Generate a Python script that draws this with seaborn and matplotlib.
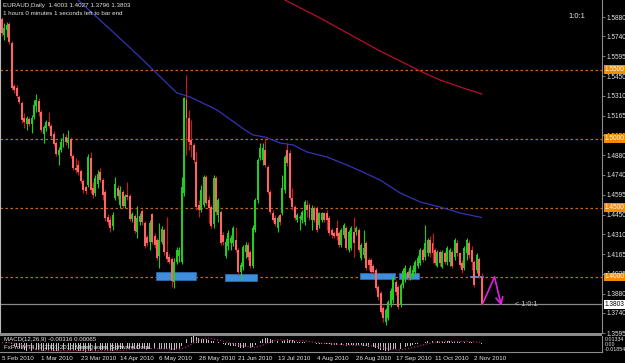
import numpy as np
import pandas as pd
import matplotlib
matplotlib.use("Agg")
import matplotlib.pyplot as plt
from matplotlib.patches import Rectangle
import seaborn as sns

# ---------------- data ----------------
open_ = [1.5866, 1.5750, 1.5786, 1.5829, 1.5692, 1.5381, 1.5366, 1.5302, 1.5258, 1.5150,
         1.5107, 1.5143, 1.5107, 1.5157, 1.5237, 1.5273, 1.5193, 1.5034, 1.5078, 1.5121,
         1.5092, 1.5034, 1.4969, 1.4882, 1.4918, 1.4962, 1.5012, 1.4969, 1.4998, 1.4875,
         1.4788, 1.4810, 1.4767, 1.4694, 1.4651, 1.4666, 1.4861, 1.4644, 1.4608, 1.4673,
         1.4759, 1.4702, 1.4615, 1.4434, 1.4412, 1.4369, 1.4571, 1.4644, 1.4521, 1.4615,
         1.4514, 1.4593, 1.4586, 1.4420, 1.4441, 1.4326, 1.4398, 1.4478, 1.4391, 1.4290,
         1.4253, 1.4456, 1.4297, 1.4268, 1.4152, 1.4253, 1.4340, 1.4181, 1.4145, 1.4130,
         1.3964, 1.4109, 1.4152, 1.4109, 1.4608, 1.5280, 1.5150, 1.4991, 1.4955, 1.4832,
         1.4521, 1.4485, 1.4521, 1.4723, 1.4557, 1.4506, 1.4384, 1.4716, 1.4448, 1.4470,
         1.4304, 1.4152, 1.4224, 1.4246, 1.4246, 1.4268, 1.4195, 1.4036, 1.4073, 1.4181,
         1.4232, 1.4181, 1.4080, 1.4340, 1.4557, 1.4861, 1.4846, 1.4918, 1.4796, 1.4615,
         1.4463, 1.4427, 1.4355, 1.4448, 1.4463, 1.4629, 1.4918, 1.4897, 1.4571, 1.4506,
         1.4412, 1.4427, 1.4412, 1.4398, 1.4521, 1.4521, 1.4412, 1.4499, 1.4499, 1.4376,
         1.4412, 1.4463, 1.4463, 1.4427, 1.4340, 1.4318, 1.4355, 1.4318, 1.4232, 1.4304,
         1.4355, 1.4195, 1.4210, 1.4326, 1.4326, 1.4340, 1.4138, 1.4159, 1.4246, 1.4123,
         1.4123, 1.4080, 1.4051, 1.3928, 1.3885, 1.3776, 1.3675, 1.3704, 1.3798, 1.3834,
         1.3964, 1.3928, 1.3798, 1.3942, 1.3993, 1.4036, 1.4008, 1.4008, 1.4036, 1.4080,
         1.4101, 1.4195, 1.4145, 1.4174, 1.4268, 1.4246, 1.4195, 1.4080, 1.4181, 1.4073,
         1.4174, 1.4109, 1.4109, 1.4181, 1.4145, 1.4246, 1.4174, 1.4101, 1.4065, 1.4174,
         1.4246, 1.4195, 1.4109, 1.4051, 1.4130, 1.4003]
high = [1.5880, 1.5837, 1.5844, 1.5844, 1.5707, 1.5395, 1.5388, 1.5316, 1.5273, 1.5186,
        1.5164, 1.5157, 1.5172, 1.5280, 1.5323, 1.5294, 1.5208, 1.5099, 1.5135, 1.5193,
        1.5107, 1.5056, 1.4984, 1.4940, 1.5005, 1.5041, 1.5034, 1.5063, 1.5012, 1.4889,
        1.4861, 1.4846, 1.4781, 1.4709, 1.4666, 1.4889, 1.4904, 1.4687, 1.4738, 1.4774,
        1.4788, 1.4716, 1.4629, 1.4456, 1.4441, 1.4470, 1.4723, 1.4666, 1.4658, 1.4629,
        1.4600, 1.4687, 1.4600, 1.4470, 1.4456, 1.4514, 1.4463, 1.4492, 1.4405, 1.4304,
        1.4412, 1.4463, 1.4318, 1.4282, 1.4391, 1.4369, 1.4355, 1.4434, 1.4167, 1.4145,
        1.4138, 1.4217, 1.4217, 1.4723, 1.5302, 1.5461, 1.5208, 1.5135, 1.4969, 1.4904,
        1.4557, 1.4666, 1.4738, 1.4738, 1.4586, 1.4521, 1.4738, 1.4731, 1.4571, 1.4485,
        1.4326, 1.4282, 1.4340, 1.4304, 1.4369, 1.4362, 1.4210, 1.4109, 1.4232, 1.4253,
        1.4253, 1.4195, 1.4376, 1.4571, 1.4861, 1.4969, 1.4969, 1.5005, 1.4810, 1.4629,
        1.4485, 1.4448, 1.4441, 1.4463, 1.4738, 1.4882, 1.4969, 1.4918, 1.4644, 1.4521,
        1.4463, 1.4448, 1.4485, 1.4557, 1.4557, 1.4535, 1.4521, 1.4514, 1.4514, 1.4470,
        1.4470, 1.4470, 1.4485, 1.4441, 1.4355, 1.4333, 1.4412, 1.4333, 1.4355, 1.4391,
        1.4369, 1.4340, 1.4369, 1.4434, 1.4369, 1.4355, 1.4246, 1.4340, 1.4261, 1.4138,
        1.4138, 1.4094, 1.4065, 1.3942, 1.3899, 1.3791, 1.3776, 1.3834, 1.3921, 1.4008,
        1.3979, 1.3942, 1.3957, 1.4065, 1.4087, 1.4051, 1.4087, 1.4087, 1.4123, 1.4159,
        1.4210, 1.4210, 1.4376, 1.4282, 1.4297, 1.4318, 1.4210, 1.4195, 1.4195, 1.4195,
        1.4188, 1.4224, 1.4210, 1.4195, 1.4282, 1.4268, 1.4181, 1.4123, 1.4224, 1.4282,
        1.4268, 1.4224, 1.4123, 1.4174, 1.4145, 1.4027]
low = [1.5743, 1.5714, 1.5736, 1.5685, 1.5352, 1.5331, 1.5294, 1.5251, 1.5114, 1.5078,
       1.5063, 1.5092, 1.5041, 1.5143, 1.5193, 1.5164, 1.5049, 1.4969, 1.5056, 1.5078,
       1.5005, 1.4947, 1.4875, 1.4810, 1.4904, 1.4940, 1.4955, 1.4933, 1.4861, 1.4774,
       1.4752, 1.4738, 1.4680, 1.4608, 1.4600, 1.4651, 1.4608, 1.4571, 1.4586, 1.4644,
       1.4687, 1.4557, 1.4405, 1.4376, 1.4326, 1.4340, 1.4557, 1.4564, 1.4499, 1.4499,
       1.4499, 1.4557, 1.4405, 1.4398, 1.4318, 1.4282, 1.4376, 1.4376, 1.4210, 1.4224,
       1.4195, 1.4239, 1.4210, 1.4123, 1.4065, 1.4239, 1.4159, 1.4109, 1.4094, 1.3928,
       1.3921, 1.4094, 1.4109, 1.4094, 1.4586, 1.4882, 1.4918, 1.4868, 1.4825, 1.4485,
       1.4434, 1.4470, 1.4506, 1.4521, 1.4391, 1.4355, 1.4355, 1.4448, 1.4398, 1.4232,
       1.4232, 1.4138, 1.4195, 1.4195, 1.4224, 1.4181, 1.4015, 1.3979, 1.4051, 1.4138,
       1.4123, 1.4065, 1.4065, 1.4326, 1.4535, 1.4846, 1.4810, 1.4796, 1.4600, 1.4456,
       1.4398, 1.4369, 1.4326, 1.4376, 1.4448, 1.4608, 1.4803, 1.4557, 1.4485, 1.4412,
       1.4398, 1.4340, 1.4391, 1.4376, 1.4434, 1.4412, 1.4340, 1.4398, 1.4326, 1.4355,
       1.4398, 1.4398, 1.4340, 1.4304, 1.4282, 1.4282, 1.4268, 1.4217, 1.4217, 1.4282,
       1.4195, 1.4181, 1.4195, 1.4145, 1.4304, 1.4181, 1.4123, 1.4138, 1.4051, 1.4051,
       1.4029, 1.4022, 1.3906, 1.3834, 1.3733, 1.3675, 1.3653, 1.3689, 1.3783, 1.3812,
       1.3870, 1.3769, 1.3783, 1.3921, 1.3964, 1.3979, 1.3979, 1.3993, 1.4015, 1.4065,
       1.4087, 1.4109, 1.4123, 1.4152, 1.4145, 1.4101, 1.4087, 1.4073, 1.4080, 1.4065,
       1.4094, 1.4087, 1.4080, 1.4065, 1.4123, 1.4152, 1.4073, 1.4029, 1.4051, 1.4123,
       1.4138, 1.4051, 1.3928, 1.4029, 1.3993, 1.3796]
close = [1.5764, 1.5801, 1.5822, 1.5699, 1.5366, 1.5352, 1.5309, 1.5266, 1.5135, 1.5121,
         1.5150, 1.5107, 1.5150, 1.5244, 1.5280, 1.5193, 1.5063, 1.5085, 1.5121, 1.5092,
         1.5020, 1.4962, 1.4889, 1.4918, 1.4976, 1.5027, 1.4976, 1.5005, 1.4875, 1.4788,
         1.4774, 1.4759, 1.4694, 1.4629, 1.4622, 1.4868, 1.4629, 1.4593, 1.4716, 1.4745,
         1.4702, 1.4593, 1.4427, 1.4398, 1.4355, 1.4448, 1.4673, 1.4586, 1.4629, 1.4514,
         1.4586, 1.4579, 1.4420, 1.4456, 1.4333, 1.4427, 1.4441, 1.4398, 1.4224, 1.4246,
         1.4391, 1.4253, 1.4232, 1.4138, 1.4268, 1.4347, 1.4181, 1.4130, 1.4109, 1.3971,
         1.4109, 1.4195, 1.4195, 1.4651, 1.5294, 1.5150, 1.4976, 1.4955, 1.4846, 1.4506,
         1.4485, 1.4629, 1.4723, 1.4535, 1.4499, 1.4369, 1.4716, 1.4470, 1.4557, 1.4246,
         1.4253, 1.4253, 1.4318, 1.4282, 1.4355, 1.4195, 1.4036, 1.4087, 1.4217, 1.4232,
         1.4145, 1.4080, 1.4355, 1.4557, 1.4846, 1.4933, 1.4933, 1.4810, 1.4615, 1.4470,
         1.4412, 1.4384, 1.4427, 1.4398, 1.4644, 1.4868, 1.4825, 1.4571, 1.4506, 1.4427,
         1.4448, 1.4434, 1.4470, 1.4543, 1.4485, 1.4427, 1.4499, 1.4412, 1.4340, 1.4463,
         1.4463, 1.4412, 1.4412, 1.4318, 1.4304, 1.4297, 1.4297, 1.4232, 1.4340, 1.4376,
         1.4210, 1.4326, 1.4355, 1.4246, 1.4355, 1.4195, 1.4232, 1.4210, 1.4065, 1.4087,
         1.4036, 1.4036, 1.3921, 1.3856, 1.3747, 1.3704, 1.3762, 1.3820, 1.3899, 1.3993,
         1.3892, 1.3783, 1.3942, 1.4044, 1.4065, 1.3993, 1.4065, 1.4051, 1.4109, 1.4138,
         1.4195, 1.4123, 1.4246, 1.4268, 1.4174, 1.4174, 1.4101, 1.4181, 1.4101, 1.4181,
         1.4109, 1.4210, 1.4195, 1.4080, 1.4268, 1.4174, 1.4087, 1.4051, 1.4210, 1.4268,
         1.4159, 1.4109, 1.3942, 1.4159, 1.4008, 1.3803]

date_tick_pos = [0, 16, 32, 48, 64, 80, 96, 112, 128, 144, 160, 176, 192]
date_tick_labels = ["5 Feb 2010", "1 Mar 2010", "23 Mar 2010", "14 Apr 2010", "6 May 2010",
                    "28 May 2010", "21 Jun 2010", "13 Jul 2010", "4 Aug 2010", "26 Aug 2010",
                    "17 Sep 2010", "11 Oct 2010", "2 Nov 2010"]
price_ticks = [1.5880, 1.5740, 1.5595, 1.5450, 1.5310, 1.5165, 1.5025, 1.4880, 1.4740,
               1.4595, 1.4450, 1.4310, 1.4165, 1.4025, 1.3880, 1.3740, 1.3595]
level_lines = [1.5500, 1.5000, 1.4500, 1.4000]
bid_price = 1.3803

# moving averages
ma_fast_x = [30.9, 39.8, 50.0, 57.3, 60.2, 71.1, 76.4, 87.4, 98.8, 102.0, 106.9, 113.0,
             118.3, 124.0, 132.1, 140.2, 147.6, 153.7, 161.8, 169.9, 178.0, 186.2, 195.0]
ma_fast_y = [1.6003, 1.5858, 1.5692, 1.5569, 1.5519, 1.5331, 1.5302, 1.5208, 1.5063, 1.5027,
             1.5012, 1.4969, 1.4955, 1.4904, 1.4868, 1.4810, 1.4752, 1.4701, 1.4608, 1.4543,
             1.4506, 1.4463, 1.4430]
ma_slow_x = [115.0, 129.3, 137.4, 145.5, 153.7, 161.8, 169.9, 178.0, 186.2, 195.1]
ma_slow_y = [1.6003, 1.5873, 1.5793, 1.5714, 1.5634, 1.5562, 1.5490, 1.5425, 1.5374, 1.5323]

# support zones
zone_x0 = [62.6, 90.6, 145.5, 161.4]
zone_x1 = [78.9, 103.7, 159.8, 169.5]
zone_lo = [1.3979, 1.3972, 1.3986, 1.3986]
zone_hi = [1.4037, 1.4022, 1.4029, 1.4029]

# projected zigzag
zig_x = [195.5, 200.2, 203.0]
zig_y = [1.3812, 1.4000, 1.3791]

# ---------------- style ----------------
sns.set_style("dark")
plt.rcParams.update({
    "figure.facecolor": "black", "axes.facecolor": "black",
    "savefig.facecolor": "black",
})
FONT = ["Liberation Sans", "DejaVu Sans"]
plt.rcParams["font.family"] = FONT
TXT = "#E6E6E6"
GRID = "#8C8C8C"

W, H = 625, 363
fig = plt.figure(figsize=(W / 100, H / 100), dpi=100)


def rect(x0, y0, x1, y1):
    return [x0 / W, 1 - y1 / H, (x1 - x0) / W, (y1 - y0) / H]


ax = fig.add_axes(rect(0, 0, 602, 333))
ax2 = fig.add_axes(rect(0, 336, 602, 352))
for a in (ax, ax2):
    a.set_facecolor("black")
    a.grid(False)
    for s in a.spines.values():
        s.set_visible(False)

XMIN, XMAX = -0.81, 243.9
ax.set_xlim(XMIN, XMAX)
ax.set_ylim(1.3595, 1.6003)

o = np.array(open_); h = np.array(high); l = np.array(low); c = np.array(close)
idx = np.arange(len(c))
up = c >= o
dn = ~up

BULL = "#22CC22"
BEAR_BODY = "#FF6464"
BEAR_WICK = "#D01818"

# level lines
for lv in level_lines:
    ax.axhline(lv, color="#C8641E", lw=0.9, ls=(0, (2, 2)), zorder=1)
ax.axhline(bid_price, color="#8A8A8A", lw=0.9, zorder=1)

# zones
for x0, x1, lo, hi in zip(zone_x0, zone_x1, zone_lo, zone_hi):
    ax.add_patch(Rectangle((x0, lo), x1 - x0, hi - lo, fc="#3E8EDB", ec="#2A6AAE",
                           lw=0.6, zorder=2))
ax.plot([190.7, 195.5], [1.4000, 1.4000], color="#3E8EDB", lw=1.5, zorder=2)

# candles
ax.vlines(idx[up], l[up], h[up], color=BULL, lw=0.8, zorder=3)
ax.vlines(idx[dn], l[dn], h[dn], color=BEAR_WICK, lw=0.8, zorder=3)
body = np.maximum(np.abs(c - o), 0.0003)
ax.bar(idx[up], body[up], bottom=np.minimum(o, c)[up], width=0.8, color=BULL,
       lw=0, zorder=4)
ax.bar(idx[dn], body[dn], bottom=np.minimum(o, c)[dn], width=0.8, color=BEAR_BODY,
       lw=0, zorder=4)

# moving averages
sns.lineplot(x=ma_fast_x, y=ma_fast_y, ax=ax, color="#3434B4", lw=0.9, zorder=5)
sns.lineplot(x=ma_slow_x, y=ma_slow_y, ax=ax, color="#B4102E", lw=0.9, zorder=5)

# zigzag projection
ax.plot(zig_x[:2], zig_y[:2], color="#E020E0", lw=1.2, zorder=6)
ax.annotate("", xy=(zig_x[2], zig_y[2]), xytext=(zig_x[1], zig_y[1]),
            arrowprops=dict(arrowstyle="->,head_length=0.5,head_width=0.25",
                            color="#E020E0", lw=1.2, shrinkA=0, shrinkB=0), zorder=6)
ax.text(208.5, bid_price, "< 1:0:1", color="#C8C8C8", fontsize=5.2, va="center",
        ha="left")

# right price axis
ax.yaxis.tick_right()
ax.set_yticks(price_ticks)
ax.set_yticklabels([f"{t:.4f}" for t in price_ticks])
ax.tick_params(axis="y", colors=GRID, labelcolor=TXT, labelsize=4.7, length=2,
               width=0.6, pad=1.2, direction="out")
ax.tick_params(axis="x", bottom=False, labelbottom=False)
ax.spines["right"].set_visible(True)
ax.spines["right"].set_color(GRID)
ax.spines["left"].set_visible(True)
ax.spines["left"].set_color("#B8B8B8")

ytr = ax.get_yaxis_transform()
for lv in level_lines:
    ax.text(1.0045, lv, f"{lv:.4f}", transform=ytr, fontsize=4.7, color="white",
            va="center", ha="left", clip_on=False, zorder=10,
            bbox=dict(boxstyle="square,pad=0.15", fc="#F08C00", ec="none"))
ax.text(1.0045, bid_price, f"{bid_price:.4f}", transform=ytr, fontsize=4.7,
        color="black", va="center", ha="left", clip_on=False, zorder=10,
        bbox=dict(boxstyle="square,pad=0.15", fc="white", ec="none"))

# ---------------- MACD pane ----------------
cs = pd.Series(close)
macd = cs.ewm(span=12, adjust=False).mean() - cs.ewm(span=26, adjust=False).mean()
signal = macd.rolling(9, min_periods=1).mean()
ax2.set_xlim(XMIN, XMAX)
ax2.set_ylim(-0.01854, 0.01334)
ax2.bar(idx, macd.values, width=0.35, color="#BEBEBE", lw=0)
sns.lineplot(x=idx, y=signal.values, ax=ax2, color="#B0207A", lw=0.9,
             linestyle=(0, (1, 1.5)))
ax2.set_yticks([])
ax2.set_xticks(date_tick_pos)
ax2.set_xticklabels(date_tick_labels, ha="left")
ax2.tick_params(axis="x", colors=GRID, labelcolor=TXT, labelsize=4.5, length=2,
                width=0.6, pad=0.6, direction="out")
ax2.spines["bottom"].set_visible(True)
ax2.spines["bottom"].set_color(GRID)
ax2.spines["right"].set_visible(True)
ax2.spines["right"].set_color(GRID)
for yy, s in [(0.76, "0.01334"), (0.47, "0.00"), (0.14, "-0.01854")]:
    ax2.text(1.004, yy, s, transform=ax2.transAxes, fontsize=3.8, color=TXT,
             va="center", ha="left", clip_on=False)
ax2.text(0.006, 0.78, "MACD(12,26,9) -0.00316 0.00065", transform=ax2.transAxes,
         fontsize=4.4, color=TXT, va="center", ha="left")
ax2.text(0.006, 0.28, "FxPro MT4, \u00a9 2001-2010 MetaQuotes Software Corp.",
         transform=ax2.transAxes, fontsize=4.4, color=TXT, va="center", ha="left")

# separator between panes
fig.add_artist(Rectangle((0, 1 - 336 / H), 602 / W, 3 / H, transform=fig.transFigure,
                         color=GRID, lw=0))

# header texts
fig.text(3 / W, 1 - 6 / H, "EURAUD,Daily  1.4003 1.4027 1.3796 1.3803", color=TXT,
         fontsize=4.5, va="center", ha="left")
fig.text(3 / W, 1 - 13.5 / H, "1 hours 0 minutes 1 seconds left to bar end", color=TXT,
         fontsize=4.5, va="center", ha="left")
fig.text(568 / W, 1 - 17 / H, "1:0:1", color=TXT, fontsize=5.5, va="center", ha="left")

fig.savefig("out.png", dpi=100, facecolor="black")
